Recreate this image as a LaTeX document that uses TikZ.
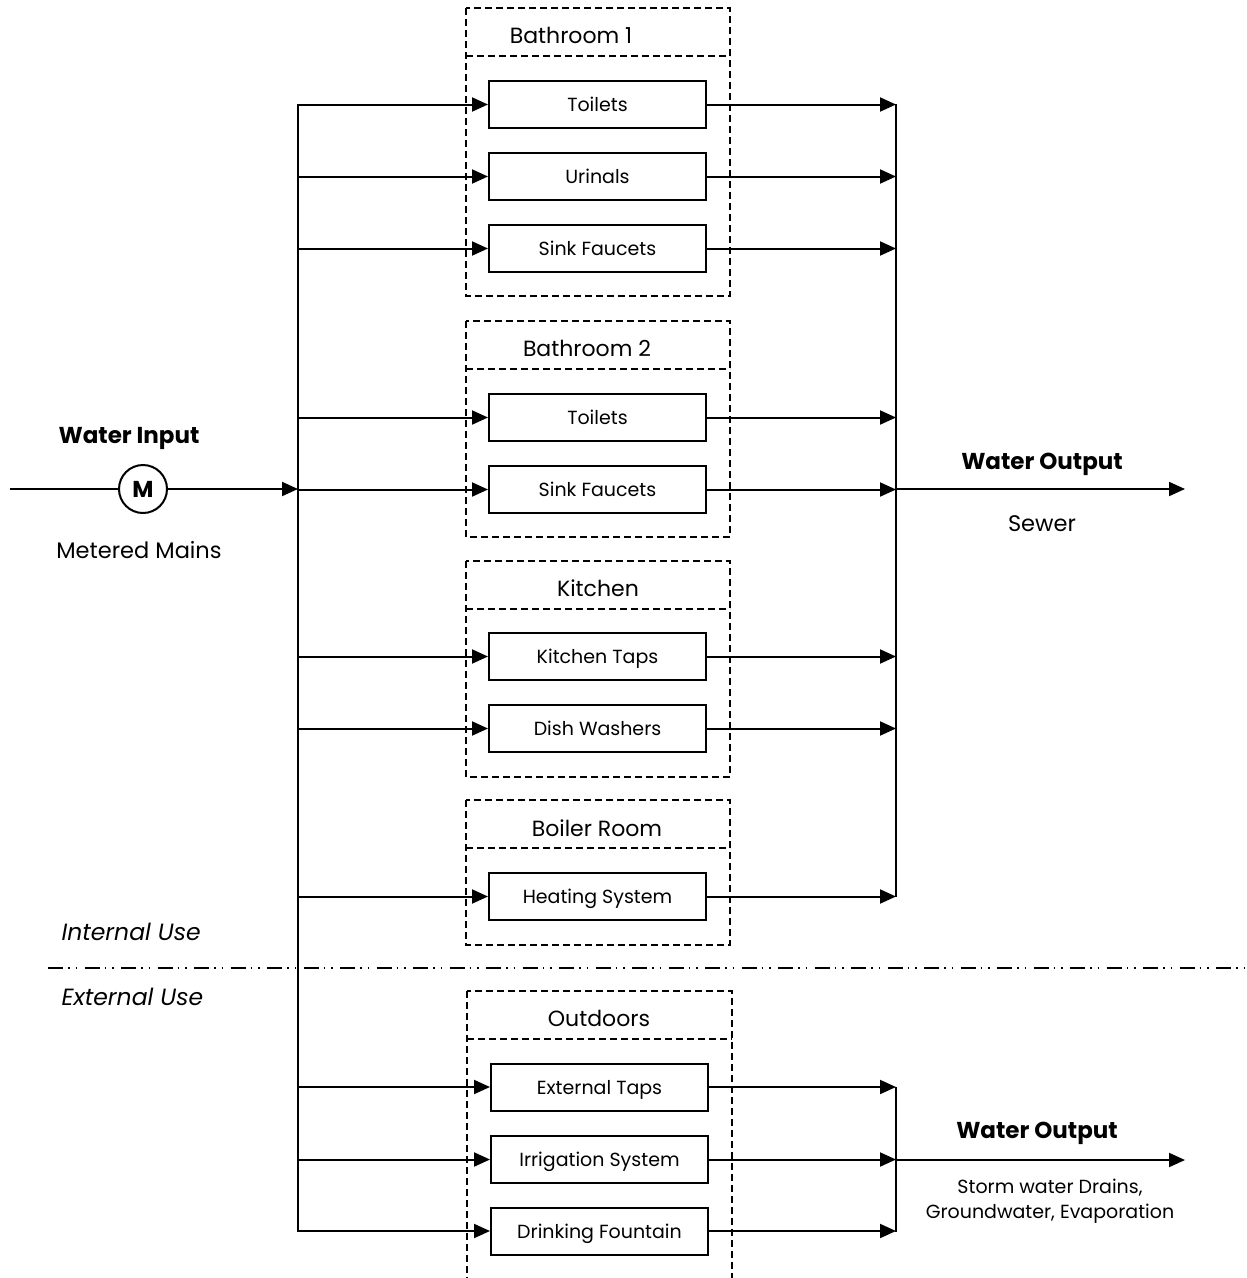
\documentclass[tikz,border=0pt]{standalone}
\usepackage{fontspec}
\setmainfont{Poppins}
\usetikzlibrary{arrows.meta}
\tikzset{
  ln/.style={line width=2pt},
  arr/.style={line width=2pt,-{Triangle[length=16pt,width=14pt]}},
  grp/.style={draw,line width=1.6pt,dash pattern=on 7pt off 4pt},
  unit/.style={draw,line width=2pt,minimum width=217pt,minimum height=47pt,inner sep=0pt,text height=14pt,text depth=0pt,font=\fontsize{19}{22}\selectfont},
  hdr/.style={font=\fontsize{22}{26}\selectfont},
  big/.style={font=\fontsize{23}{27}\selectfont\bfseries},
  lbl/.style={font=\fontsize{22.5}{26}\selectfont},
  ital/.style={font=\fontsize{23.5}{27}\selectfont\itshape,anchor=west},
}
\begin{document}
\begin{tikzpicture}[x=1pt,y=-1pt]
\clip (0,0) rectangle (1247,1278);
\fill[white] (0,0) rectangle (1247,1278);
% group boxes
\draw[grp] (466,8) rectangle (730,296); \draw[grp] (466,56) -- (730,56);
\node[hdr] (h1) at (571,35) {Bathroom 1};
\draw[grp] (466,321) rectangle (730,537); \draw[grp] (466,369) -- (730,369);
\node[hdr] (h2) at (587,348) {Bathroom 2};
\draw[grp] (466,561) rectangle (730,777); \draw[grp] (466,609) -- (730,609);
\node[hdr] (h3) at (598,588) {Kitchen};
\draw[grp] (466,800) rectangle (730,945); \draw[grp] (466,848) -- (730,848);
\node[hdr] (h4) at (597,828) {Boiler Room};
\draw[grp] (467,991) rectangle (732,1300); \draw[grp] (467,1039) -- (732,1039);
\node[hdr] (h5) at (599,1018) {Outdoors};
% units
\node[unit] (t1) at (597.5,104.5) {Toilets};
\node[unit] (u1) at (597.5,176.5) {Urinals};
\node[unit] (s1) at (597.5,248.5) {Sink Faucets};
\node[unit] (t2) at (597.5,417.5) {Toilets};
\node[unit] (s2) at (597.5,489.5) {Sink Faucets};
\node[unit] (k1) at (597.5,656.5) {Kitchen Taps};
\node[unit] (d1) at (597.5,728.5) {Dish Washers};
\node[unit] (hs) at (597.5,896.5) {Heating System};
\node[unit] (et) at (599.5,1087) {External Taps};
\node[unit] (ir) at (599.5,1159.5) {Irrigation System};
\node[unit] (df) at (599.5,1231) {Drinking Fountain};
% bus and collectors
\coordinate (busT) at (298,104);
\coordinate (busB) at (298,1232);
\coordinate (colT) at (896,104);
\coordinate (colB) at (896,897);
\coordinate (col2T) at (896,1087);
\coordinate (col2B) at (896,1232);
\draw[ln] (busT) -- (busB);
\draw[ln] (colT) -- (colB);
\draw[ln] (col2T) -- (col2B);
\foreach \n in {t1,u1,s1,t2,s2,k1,d1,hs,et,ir,df}{
  \draw[arr] (\n -| busT) -- (\n.west);
}
\foreach \n in {t1,u1,s1,t2,s2,k1,d1,hs}{
  \draw[arr] (\n.east) -- (\n -| colT);
}
\foreach \n in {et,ir,df}{
  \draw[arr] (\n.east) -- (\n -| col2T);
}
% input
\coordinate (in) at (10,489);
\node[circle,draw,line width=2pt,minimum size=48pt,inner sep=0pt,font=\fontsize{23}{27}\selectfont\bfseries] (m) at (143,489) {M};
\draw[ln] (in) -- (m);
\draw[arr] (m) -- (m -| busT);
\node[big] (wi) at (129,438) {Water Input};
\node[lbl] (mm) at (139,550) {Metered Mains};
% outputs
\coordinate (o1s) at (896,489);
\coordinate (o1e) at (1185,489);
\draw[arr] (o1s) -- (o1e);
\node[big] (wo1) at (1042,464) {Water Output};
\node[lbl] (sw) at (1042,524) {Sewer};
\coordinate (o2s) at (896,1160);
\coordinate (o2e) at (1185,1160);
\draw[arr] (o2s) -- (o2e);
\node[big] (wo2) at (1037,1133) {Water Output};
\node[font=\fontsize{19}{25}\selectfont,align=center] (sd) at (1050,1201) {Storm water Drains,\\Groundwater, Evaporation};
% divider
\coordinate (dvL) at (48,968);
\coordinate (dvR) at (1250,968);
\draw[line width=2pt,dash pattern=on 15pt off 5pt on 1.5pt off 6pt on 1.5pt off 7.5pt] (dvL) -- (dvR);
\node[ital] (iu) at (58,932) {Internal Use};
\node[ital] (eu) at (58,997) {External Use};
\end{tikzpicture}
\end{document}
